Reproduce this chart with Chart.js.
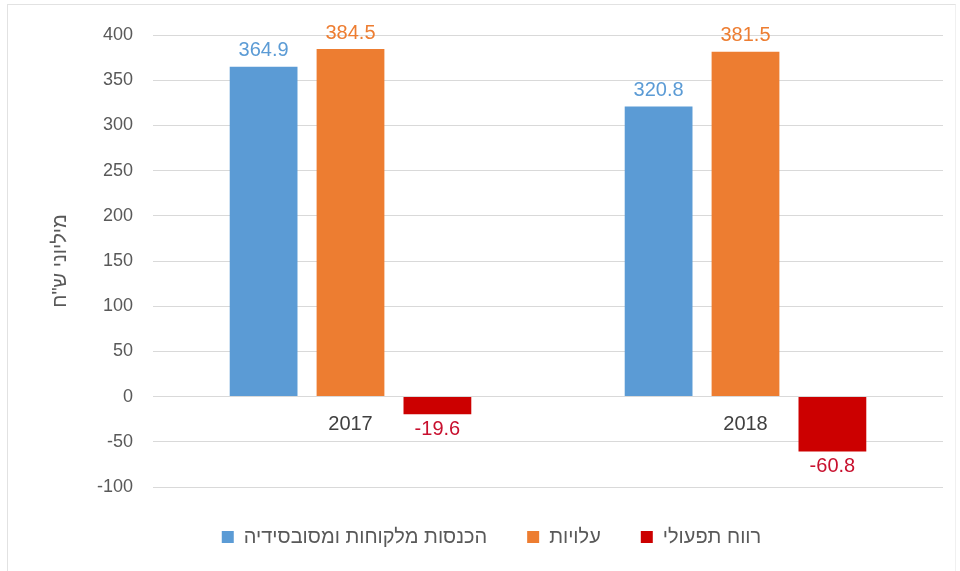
<!DOCTYPE html>
<html lang="he">
<head>
<meta charset="utf-8">
<title>הכנסות, עלויות ורווח תפעולי</title>
<script src="https://cdn.jsdelivr.net/npm/chart.js@4.4.1/dist/chart.umd.min.js"></script>
<style>
    html, body { margin: 0; padding: 0; background: #fff; }
    #wrap { position: relative; width: 960px; height: 571px; overflow: hidden; }
    #frame {
        position: absolute; left: 7px; top: 4px; width: 947px; height: 600px;
        border-left: 1px solid #e2e2e2; border-top: 1px solid #e2e2e2; border-right: 1px solid #f0f0f0;
        pointer-events: none;
    }
</style>
</head>
<body>
<div id="wrap">
    <canvas id="chart"></canvas>
    <div id="frame"></div>
</div>
<script>
const years       = ['2017', '2018'];
const seriesNames = ['הכנסות מלקוחות ומסובסידיה', 'עלויות', 'רווח תפעולי'];
const revenue     = [364.9, 320.8];
const costs       = [384.5, 381.5];
const profit      = [-19.6, -60.8];
const yTicks      = [400, 350, 300, 250, 200, 150, 100, 50, 0, -50, -100];

const barColors   = ['#5b9bd5', '#ed7d31', '#cc0000'];
const labelColors = ['#5b9bd5', '#ed7d31', '#c8102e'];
const fontFamily  = "'Liberation Sans', 'DejaVu Sans', sans-serif";

// values above / below each bar, years written just under the zero line
const barLabels = {
    id: 'barLabels',
    afterDatasetsDraw (chart)
    {
        const ctx = chart.ctx;
        const x   = chart.scales.x;
        const y   = chart.scales.y;

        ctx.save();
        ctx.textAlign = 'center';
        ctx.font      = '20px ' + fontFamily;

        chart.data.datasets.forEach((ds, i) => {
            chart.getDatasetMeta(i).data.forEach((bar, j) => {
                const v = ds.data[j];
                ctx.fillStyle = labelColors[i];
                if (v >= 0) {
                    ctx.textBaseline = 'bottom';
                    ctx.fillText(v.toFixed(1), bar.x, bar.y - 6);
                } else {
                    ctx.textBaseline = 'top';
                    ctx.fillText(v.toFixed(1), bar.x, bar.y + 5);
                }
            });
        });

        ctx.font         = '20px ' + fontFamily;
        ctx.fillStyle    = '#404040';
        ctx.textBaseline = 'middle';
        const zero = y.getPixelForValue(0);
        for (let i = 0; i < years.length; ++i) {
            ctx.fillText(years[i], x.getPixelForValue(i), zero + 28);
        }
        ctx.restore();
    }
};

new Chart(document.getElementById('chart').getContext('2d'), {
    type: 'bar',
    data: {
        labels: years,
        datasets: [
            { label: seriesNames[0], data: revenue, backgroundColor: barColors[0] },
            { label: seriesNames[1], data: costs,   backgroundColor: barColors[1] },
            { label: seriesNames[2], data: profit,  backgroundColor: barColors[2] }
        ]
    },
    options: {
        responsive: true,
        maintainAspectRatio: false,
        animation: false,
        layout: { padding: { left: 40, right: 17, top: 35, bottom: 14 } },
        datasets: { bar: { categoryPercentage: 0.66, barPercentage: 0.78 } },
        scales: {
            x: { display: false },
            y: {
                min: -100,
                max: 400,
                afterBuildTicks: (s) => { s.ticks = yTicks.map((v) => ({ value: v })); },
                afterFit: (s) => { s.width = 113; },
                grid: { color: '#d9d9d9', drawTicks: false },
                border: { display: false },
                ticks: { padding: 20, color: '#595959', font: { family: fontFamily, size: 18 } },
                title: {
                    display: true,
                    text: 'מיליוני ש"ח',
                    color: '#595959',
                    padding: { top: 8, bottom: 0 },
                    font: { family: fontFamily, size: 20 }
                }
            }
        },
        plugins: {
            tooltip: { enabled: false },
            legend: {
                position: 'bottom',
                labels: {
                    boxWidth: 12,
                    boxHeight: 12,
                    padding: 40,
                    color: '#595959',
                    font: { family: fontFamily, size: 20 }
                }
            }
        }
    },
    plugins: [barLabels]
});
</script>
</body>
</html>
